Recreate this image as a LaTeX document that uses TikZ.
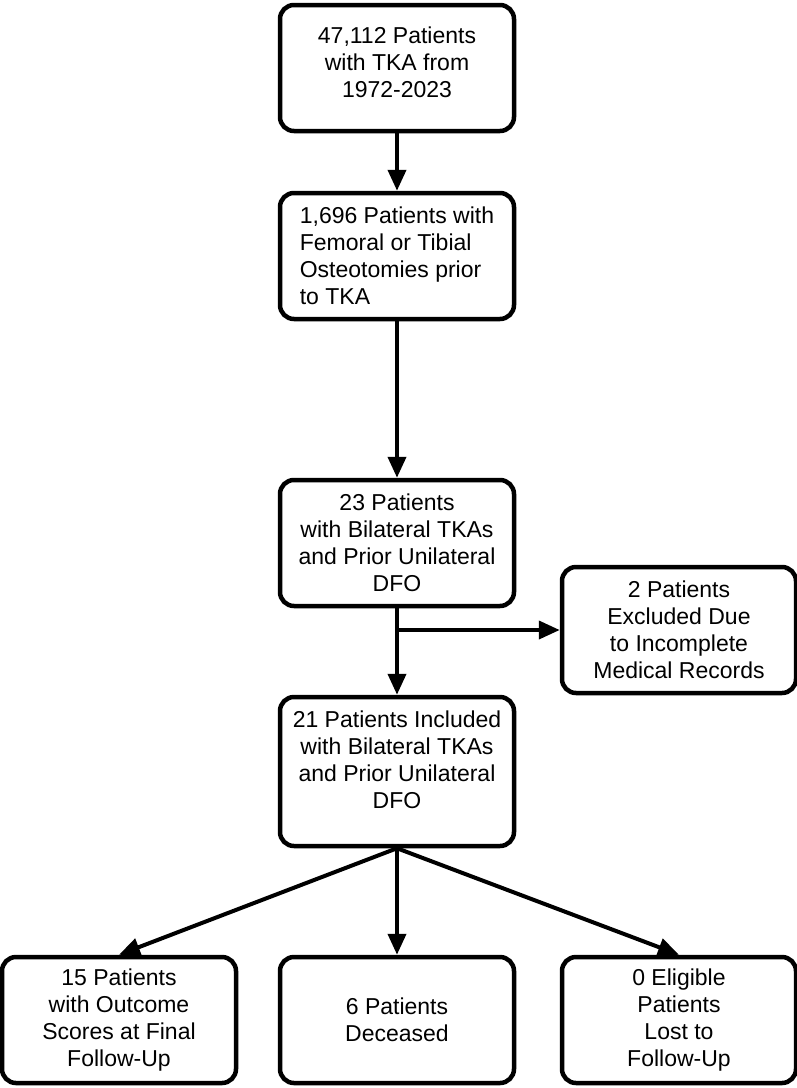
\documentclass[tikz,border=0pt]{standalone}
\usepackage{fontspec}
\setmainfont{Liberation Sans}
\usetikzlibrary{arrows.meta}

\begin{document}
\begin{tikzpicture}[x=1pt,y=-1pt,
	box/.style={draw,line width=4.5pt,rounded corners=14pt,minimum width=234pt,minimum height=126pt,align=center,inner sep=0pt,font=\fontsize{23}{27}\selectfont},
	flow/.style={line width=4pt,-{Triangle[length=21pt,width=18pt]}}]
	\useasboundingbox (0,0) rectangle (797,1088);
	%main column
	\node[box,text depth=12pt] (total) at (397,68) {47,112 Patients\\with TKA from\\1972-2023};
	\node[box,align=left] (osteo) at (397,256) {1,696 Patients with\\Femoral or Tibial\\Osteotomies prior\\to TKA};
	\node[box] (bilat) at (397,543) {23 Patients\\with Bilateral TKAs\\and Prior Unilateral\\DFO};
	\node[box] (excl) at (679,630) {2 Patients\\Excluded Due\\to Incomplete\\Medical Records};
	\node[box,minimum height=149pt,text depth=24pt] (incl) at (397,771.5) {21 Patients Included\\with Bilateral TKAs\\and Prior Unilateral\\DFO};
	%outcomes
	\node[box] (scores) at (119,1020) {15 Patients\\with Outcome\\Scores at Final\\Follow-Up};
	\node[box] (dead) at (397,1020) {6 Patients\\Deceased};
	\node[box] (lost) at (679,1020) {0 Eligible\\Patients\\Lost to\\Follow-Up};
	%arrows
	\coordinate (split) at (397,630);
	\draw[flow] (total) -- (osteo);
	\draw[flow] (osteo) -- (bilat);
	\draw[flow] (bilat) -- (incl);
	\draw[flow] (split) -- (excl);
	\draw[flow] (incl.south) -- (scores.north);
	\draw[flow] (incl.south) -- (dead.north);
	\draw[flow] (incl.south) -- (lost.north);
\end{tikzpicture}
\end{document}
